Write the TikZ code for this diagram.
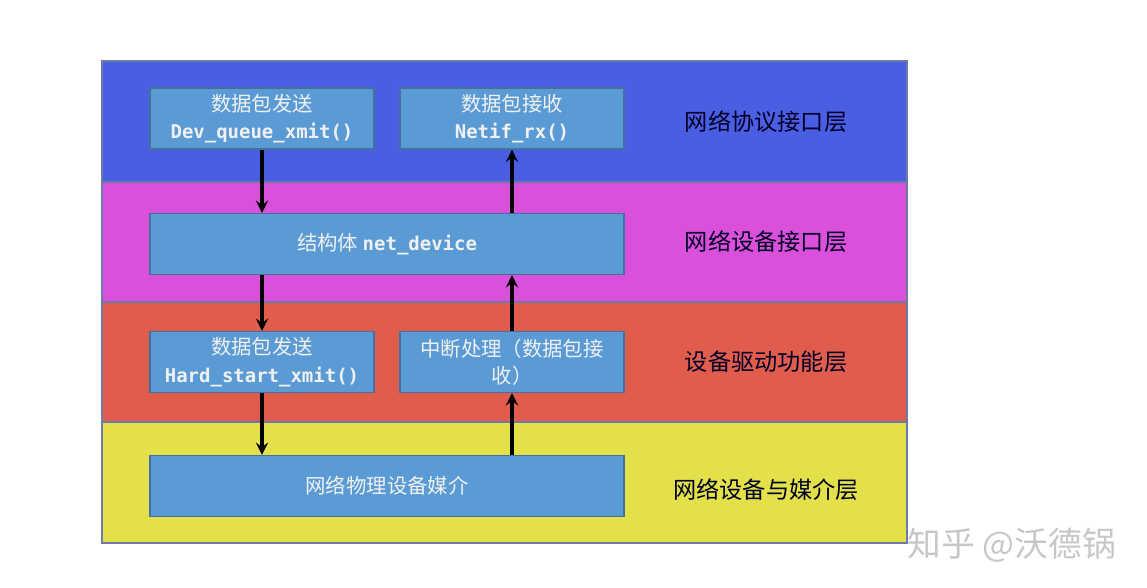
\documentclass[tikz,border=0pt]{standalone}
\usepackage{fontspec}
\newfontfamily\cjk{Noto Sans CJK SC}
\setmonofont{DejaVu Sans Mono}
\usetikzlibrary{positioning}

\definecolor{cProto}{HTML}{4A5EE4}
\definecolor{cIface}{HTML}{DA50DA}
\definecolor{cDrv}{HTML}{E05C4C}
\definecolor{cMedia}{HTML}{E3E04A}
\definecolor{cBox}{HTML}{5B9BD5}
\definecolor{cBoxLine}{HTML}{41719C}
\definecolor{cEdge}{HTML}{6E7AA6}

\tikzset{
  layer/.style={draw=cEdge,line width=0.8pt},
  blk/.style={rectangle,draw=cBoxLine,fill=cBox,line width=0.8pt,
    minimum height=1.525cm,inner sep=0pt,align=center,text=white!94!black,
    font=\cjk\fontsize{14.5}{19.5}\selectfont},
  half/.style={blk,minimum width=5.6cm},
  full/.style={blk,minimum width=11.85cm},
  lbl/.style={text=black!85!blue,font=\cjk\fontsize{16.5}{20}\selectfont},
  flow/.style={->,>=stealth,line width=2.8pt,black}
}
\newcommand{\fn}[1]{{\ttfamily\bfseries\fontsize{13.5}{19.5}\selectfont #1}}

\begin{document}
\begin{tikzpicture}

\useasboundingbox (0,0) rectangle (28.675,-14.7);

% layers
\draw[layer,fill=cProto] (2.55,-1.525) rectangle (22.675,-4.55);
\draw[layer,fill=cIface] (2.55,-4.55)  rectangle (22.675,-7.55);
\draw[layer,fill=cDrv]   (2.55,-7.55)  rectangle (22.675,-10.55);
\draw[layer,fill=cMedia] (2.55,-10.55) rectangle (22.675,-13.575);

% blocks
\node[half] (send)  at (6.55,-2.9625) {数据包发送\\\fn{Dev\_queue\_xmit()}};
\node[half] (recv)  at (12.8,-2.9625) {数据包接收\\\fn{Netif\_rx()}};
\node[full] (dev)   at (9.675,-6.1)   {结构体 \fn{net\_device}};
\node[half] (hard)  at (6.55,-9.05)   {数据包发送\\\fn{Hard\_start\_xmit()}};
\node[half] (irq)   at (12.8,-9.05)   {中断处理（数据包接\\收）};
\node[full] (media) at (9.675,-12.15) {网络物理设备媒介};

% layer names
\node[lbl] (lProto) at (19.15,-3.05)  {网络协议接口层};
\node[lbl] (lIface) at (19.15,-6.05)  {网络设备接口层};
\node[lbl] (lDrv)   at (19.15,-9.05)  {设备驱动功能层};
\node[lbl] (lMedia) at (19.15,-12.25) {网络设备与媒介层};

% send path
\draw[flow] (send) -- (send |- dev.north);
\draw[flow] (send |- dev.south) -- (hard);
\draw[flow] (hard) -- (hard |- media.north);

% receive path
\draw[flow] (irq |- media.north) -- (irq);
\draw[flow] (irq) -- (irq |- dev.south);
\draw[flow] (recv |- dev.north) -- (recv);

\node[text=black!22,font=\cjk\fontsize{24}{26}\selectfont] (mark) at (25.3,-13.62) {知乎 @沃德锅};

\end{tikzpicture}
\end{document}
